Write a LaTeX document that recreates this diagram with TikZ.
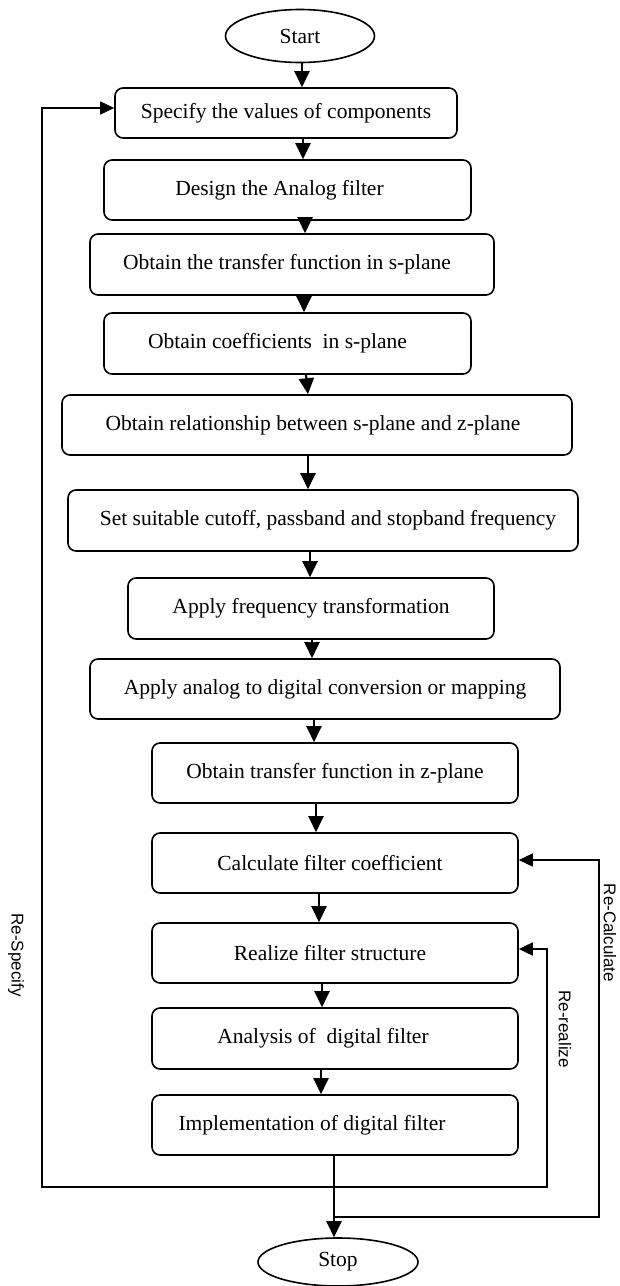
\documentclass[tikz,border=0pt]{standalone}
\usepackage{fontspec}
\setmainfont{Liberation Serif}
\newfontfamily\labfont{Liberation Sans}
\usetikzlibrary{arrows.meta,shapes.geometric}
\begin{document}
\begin{tikzpicture}[x=1pt,y=-1pt,
  box/.style={draw,line width=1.6pt,rounded corners=8pt,inner sep=0pt,font=\fontsize{21.5}{25}\selectfont},
  term/.style={draw,ellipse,line width=1.6pt,inner sep=0pt,font=\fontsize{21.5}{25}\selectfont},
  arr/.style={line width=2.2pt,-{Triangle[length=16pt,width=15pt]}},
  back/.style={line width=1.5pt,-{Triangle[length=14pt,width=13pt]}},
  lab/.style={font=\labfont\fontsize{17}{20}\selectfont,rotate=-90}]
\useasboundingbox (0,0) rectangle (619,1286);
\node[term,minimum width=149pt,minimum height=53pt] (start) at (300,36) {Start};
\node[box,minimum width=342pt,minimum height=50pt] (spec) at (286,113) {Specify the values of components};
\node[box,minimum width=367pt,minimum height=60pt] (design) at (287.5,190) {\hspace*{-16pt}Design the Analog filter};
\node[box,minimum width=404pt,minimum height=61pt] (trans) at (292,264.5) {\hspace*{-10pt}Obtain the transfer function in s-plane};
\node[box,minimum width=367pt,minimum height=61pt] (coef) at (287.5,343.5) {\hspace*{-20pt}Obtain coefficients\ \ in s-plane};
\node[box,minimum width=510pt,minimum height=60pt] (rel) at (317,425) {\hspace*{-8pt}Obtain relationship between s-plane and z-plane};
\node[box,minimum width=510pt,minimum height=61pt] (set) at (323,520.5) {\hspace*{10pt}Set suitable cutoff, passband and stopband frequency};
\node[box,minimum width=366pt,minimum height=61pt] (freq) at (311,608.5) {Apply frequency transformation};
\node[box,minimum width=470pt,minimum height=60pt] (a2d) at (325,689) {Apply analog to digital conversion or mapping};
\node[box,minimum width=366pt,minimum height=60pt] (tfz) at (335,773) {Obtain transfer function in z-plane};
\node[box,minimum width=366pt,minimum height=60pt] (calc) at (335,863) {\hspace*{-10pt}Calculate filter coefficient};
\node[box,minimum width=366pt,minimum height=60pt] (real) at (335,953) {\hspace*{-10pt}Realize filter structure};
\node[box,minimum width=366pt,minimum height=61pt] (anal) at (335,1038.5) {\hspace*{-24pt}Analysis of\ \ digital filter};
\node[box,minimum width=366pt,minimum height=60pt] (impl) at (335,1125) {\hspace*{-46pt}Implementation of digital filter};
\node[term,minimum width=160pt,minimum height=48pt] (stop) at (338,1262) {Stop};
% main flow
\draw[arr] ([xshift=2pt]start.south) -- ([xshift=16pt]spec.north);
\draw[arr] ([xshift=17pt]spec.south) -- ([xshift=15.5pt]design.north);
\draw[arr] ([xshift=17.5pt]design.south) -- ([xshift=13pt]trans.north);
\draw[arr] ([xshift=12pt]trans.south) -- ([xshift=16.5pt]coef.north);
\draw[arr] ([xshift=18.5pt]coef.south) -- ([xshift=-9pt]rel.north);
\draw[arr] ([xshift=-9pt]rel.south) -- ([xshift=-15pt]set.north);
\draw[arr] ([xshift=-13pt]set.south) -- ([xshift=-1pt]freq.north);
\draw[arr] ([xshift=1pt]freq.south) -- ([xshift=-13pt]a2d.north);
\draw[arr] ([xshift=-11pt]a2d.south) -- ([xshift=-21pt]tfz.north);
\draw[arr] ([xshift=-19pt]tfz.south) -- ([xshift=-19pt]calc.north);
\draw[arr] ([xshift=-16pt]calc.south) -- ([xshift=-16pt]real.north);
\draw[arr] ([xshift=-13pt]real.south) -- ([xshift=-13pt]anal.north);
\draw[arr] ([xshift=-14pt]anal.south) -- ([xshift=-14pt]impl.north);
\draw[arr] ([xshift=-1pt]impl.south) -- ([xshift=-4pt]stop.north);
% feedback loops
\coordinate (j1) at (334,1187);
\coordinate (j2) at (334,1217);
\coordinate (rs) at (42,1187);
\coordinate (rr) at (547,1187);
\coordinate (rc) at (599,1217);
\draw[back] (j1) -- (rs) |- ([yshift=5pt]spec.west);
\draw[back] (j1) -- (rr) |- ([yshift=4pt]real.east);
\draw[back] (j2) -- (rc) |- ([yshift=3pt]calc.east);
\node[lab] (lspec) at (16,955) {Re-Specify};
\node[lab] (lreal) at (565,1029) {Re-realize};
\node[lab] (lcalc) at (610,933) {Re-Calculate};
\end{tikzpicture}
\end{document}
